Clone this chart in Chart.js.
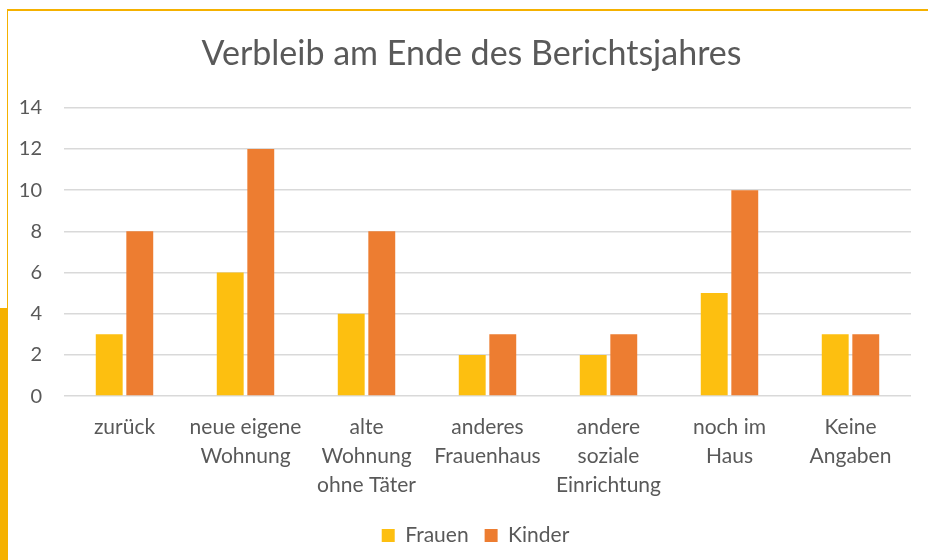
<!DOCTYPE html>
<html>
<head>
<meta charset="utf-8">
<script src="https://cdn.jsdelivr.net/npm/chart.js@4"></script>
<style>
  body { margin: 0; background: #fff; }
  #frame { position: relative; width: 928px; height: 560px; overflow: hidden; }
  #topline { position: absolute; left: 7px; top: 9px; width: 921px; height: 2px; background: #f5b100; }
  #leftline { position: absolute; left: 7px; top: 9px; width: 1px; height: 300px; background: #f5b100; }
  #leftbar { position: absolute; left: 0; top: 308px; width: 8px; height: 252px; background: #f5b100; }
  #wrap { position: absolute; left: 8px; top: 11px; width: 920px; height: 549px; }
</style>
</head>
<body>
<div id="frame">
  <div id="topline"></div>
  <div id="leftline"></div>
  <div id="leftbar"></div>
  <div id="wrap"><canvas id="chart"></canvas></div>
</div>
<script>
const categories = [
  'zurück',
  ['neue eigene', 'Wohnung'],
  ['alte', 'Wohnung', 'ohne Täter'],
  ['anderes', 'Frauenhaus'],
  ['andere', 'soziale', 'Einrichtung'],
  ['noch im', 'Haus'],
  ['Keine', 'Angaben']
];
const frauen = [3, 6, 4, 2, 2, 5, 3];
const kinder = [8, 12, 8, 3, 3, 10, 3];
const yTicks = [0, 2, 4, 6, 8, 10, 12, 14];

// title and legend sit a bit right of the canvas centre in the original
const shiftBlocks = {
    id: 'shiftBlocks',
    afterLayout(chart) {
        if (chart.titleBlock) { chart.titleBlock.left += 12; chart.titleBlock.right += 12; }
        if (chart.legend) { chart.legend.left += 16; chart.legend.right += 16; }
    }
};

document.addEventListener('DOMContentLoaded', function() {
    const ctx = document.getElementById('chart').getContext('2d');
    const font = 'Lato, "Open Sans", sans-serif';
    new Chart(ctx, {
        type: 'bar',
        data: {
            labels: categories,
            datasets: [
                { label: 'Frauen', data: frauen, backgroundColor: '#fdbf10' },
                { label: 'Kinder', data: kinder, backgroundColor: '#ed7d31' }
            ]
        },
        options: {
            responsive: true,
            maintainAspectRatio: false,
            animation: false,
            datasets: { bar: { categoryPercentage: 0.505, barPercentage: 0.88 } },
            layout: { padding: { left: 0, right: 17, top: 0, bottom: 4 } },
            scales: {
                x: {
                    grid: { display: false },
                    border: { display: false },
                    ticks: { color: '#595959', font: { family: font, size: 21, lineHeight: 1.38 }, padding: 9, maxRotation: 0, autoSkip: false }
                },
                y: {
                    min: 0,
                    max: 14,
                    afterBuildTicks: function(axis) { axis.ticks = yTicks.map(v => ({ value: v })); },
                    afterFit: function(axis) { axis.width = 56; },
                    grid: { color: '#d9d9d9', lineWidth: 1.5, drawTicks: false },
                    border: { display: false },
                    ticks: { color: '#595959', font: { family: font, size: 20 }, padding: 22 }
                }
            },
            plugins: {
                title: {
                    display: true,
                    text: 'Verbleib am Ende des Berichtsjahres',
                    color: '#595959',
                    font: { family: font, size: 34, weight: 'normal' },
                    padding: { top: 23, bottom: 33 }
                },
                legend: {
                    position: 'bottom',
                    labels: { color: '#595959', font: { family: font, size: 21 }, boxWidth: 13, boxHeight: 13, padding: 16 }
                },
                tooltip: { enabled: false }
            }
        },
        plugins: [shiftBlocks]
    });
});
</script>
</body>
</html>
